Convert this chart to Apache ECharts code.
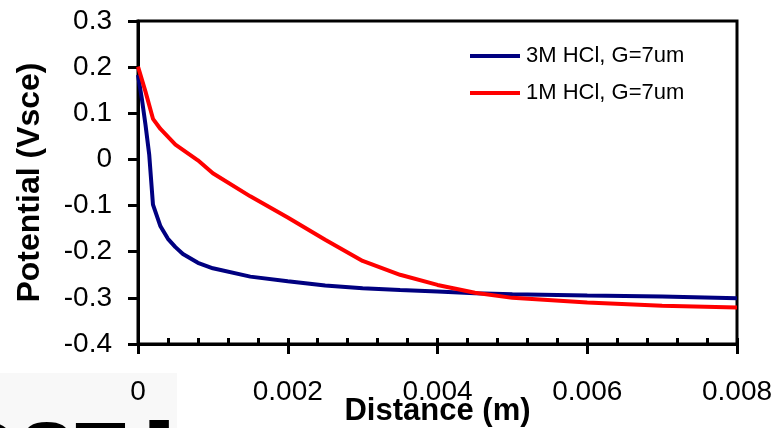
<!DOCTYPE html>
<html>
<head>
<meta charset="utf-8">
<style>
  html, body { margin: 0; padding: 0; background: #fff; }
  #chart { width: 779px; height: 428px; }
</style>
<script src="https://cdn.jsdelivr.net/npm/echarts@6/dist/echarts.min.js"></script>
</head>
<body>
<div id="chart"></div>
<script>
// Potential profile along the gap for two HCl concentrations
const seriesNames = ['3M HCl, G=7um', '1M HCl, G=7um'];

const dist3M = [0, 0.00005, 0.0001, 0.00015, 0.0002, 0.0003, 0.0004, 0.0005, 0.0006, 0.0008,
                0.001, 0.0015, 0.002, 0.0025, 0.003, 0.0035, 0.004, 0.0045, 0.005, 0.006, 0.007, 0.008];
const pot3M  = [0.183, 0.133, 0.075, 0.01, -0.098, -0.145, -0.172, -0.19, -0.205, -0.224,
                -0.236, -0.254, -0.264, -0.273, -0.279, -0.283, -0.286, -0.29, -0.292, -0.295, -0.297, -0.301];

const dist1M = [0, 0.0001, 0.0002, 0.0003, 0.0005, 0.0008, 0.001, 0.0015, 0.002, 0.0025,
                0.003, 0.0035, 0.004, 0.0045, 0.005, 0.006, 0.007, 0.008];
const pot1M  = [0.201, 0.147, 0.088, 0.066, 0.032, -0.002, -0.03, -0.08, -0.126, -0.174,
                -0.22, -0.25, -0.272, -0.289, -0.3, -0.31, -0.317, -0.321];

const xTicks = { min: 0, max: 0.008, step: 0.002, minorStep: 0.0004 };
const yTicks = { min: -0.4, max: 0.3, step: 0.1 };

const FONT = '"Liberation Sans", Arial, sans-serif';

function pairs(xs, ys) { return xs.map((x, i) => [x, ys[i]]); }

const chart = echarts.init(document.getElementById('chart'), null, { renderer: 'canvas' });

chart.setOption({
  animation: false,
  backgroundColor: '#fff',
  textStyle: { fontFamily: FONT, color: '#000' },
  grid: {
    left: 138, top: 21, right: 42, bottom: 84,
    outerBoundsMode: 'none',
    containLabel: false,
    show: true, borderColor: '#000', borderWidth: 3, backgroundColor: 'transparent'
  },
  legend: {
    orient: 'vertical',
    left: 470, top: 44,
    padding: 0,
    itemWidth: 50, itemHeight: 4, itemGap: 13,
    icon: 'rect',
    textStyle: { fontFamily: FONT, fontSize: 22, lineHeight: 24, color: '#000', padding: [0, 0, 0, 1] },
    data: seriesNames
  },
  xAxis: [{
    type: 'value',
    min: xTicks.min, max: xTicks.max, interval: xTicks.step,
    position: 'bottom',
    name: 'Distance (m)',
    nameLocation: 'middle',
    nameGap: 52,
    nameMoveOverlap: false,
    nameTextStyle: { fontFamily: FONT, fontSize: 31, fontWeight: 'bold', color: '#000' },
    axisLine: { show: true, onZero: false, lineStyle: { color: '#000', width: 3 } },
    axisTick: { show: true, inside: false, length: 10, lineStyle: { color: '#000', width: 3 } },
    axisLabel: { fontFamily: FONT, fontSize: 28, color: '#000', margin: 34 },
    splitLine: { show: false }
  }, {
    // minor tick marks pointing into the plot
    type: 'value',
    min: xTicks.min, max: xTicks.max, interval: xTicks.minorStep,
    position: 'bottom',
    axisLine: { show: false, onZero: false },
    axisTick: { show: true, inside: true, length: 6, lineStyle: { color: '#000', width: 3 } },
    axisLabel: { show: false },
    splitLine: { show: false }
  }],
  yAxis: {
    type: 'value',
    min: yTicks.min, max: yTicks.max, interval: yTicks.step,
    name: 'Potential (Vsce)',
    nameLocation: 'middle',
    nameGap: 92,
    nameRotate: 90,
    nameMoveOverlap: false,
    nameTextStyle: { fontFamily: FONT, fontSize: 32, fontWeight: 'bold', color: '#000' },
    axisLine: { show: true, onZero: false, lineStyle: { color: '#000', width: 3 } },
    axisTick: { show: true, inside: false, length: 10, lineStyle: { color: '#000', width: 3 } },
    axisLabel: {
      fontFamily: FONT, fontSize: 28, color: '#000', margin: 26,
      formatter: v => String(Math.round(v * 10) / 10)
    },
    splitLine: { show: false }
  },
  series: [{
    name: seriesNames[0],
    type: 'line',
    data: pairs(dist3M, pot3M),
    showSymbol: false,
    lineStyle: { color: '#000080', width: 4 },
    itemStyle: { color: '#000080' },
    z: 3
  }, {
    name: seriesNames[1],
    type: 'line',
    data: pairs(dist1M, pot1M),
    showSymbol: false,
    lineStyle: { color: '#ff0000', width: 4 },
    itemStyle: { color: '#ff0000' },
    z: 4
  }],
  graphic: [
    { type: 'rect', left: 0, top: 373, shape: { width: 177, height: 55 }, style: { fill: '#f8f8f8' }, z: -10 },
    { type: 'text', x: -44, y: 457, style: { text: 'O', font: 'bold 80px ' + FONT, fill: '#000', verticalAlign: 'middle', stroke: '#000', lineWidth: 2 }, z: -5 },
    { type: 'text', x: 20, y: 457, style: { text: 'S', font: 'bold 80px ' + FONT, fill: '#000', verticalAlign: 'middle', stroke: '#000', lineWidth: 2 }, z: -5 },
    { type: 'text', x: 76, y: 457, style: { text: 'T', font: 'bold 80px ' + FONT, fill: '#000', verticalAlign: 'middle', stroke: '#000', lineWidth: 2 }, z: -5 },
    { type: 'text', x: 148, y: 457, style: { text: 'I', font: 'bold 80px ' + FONT, fill: '#000', verticalAlign: 'middle', stroke: '#000', lineWidth: 8 }, z: -5 }
  ]
});
</script>
</body>
</html>
